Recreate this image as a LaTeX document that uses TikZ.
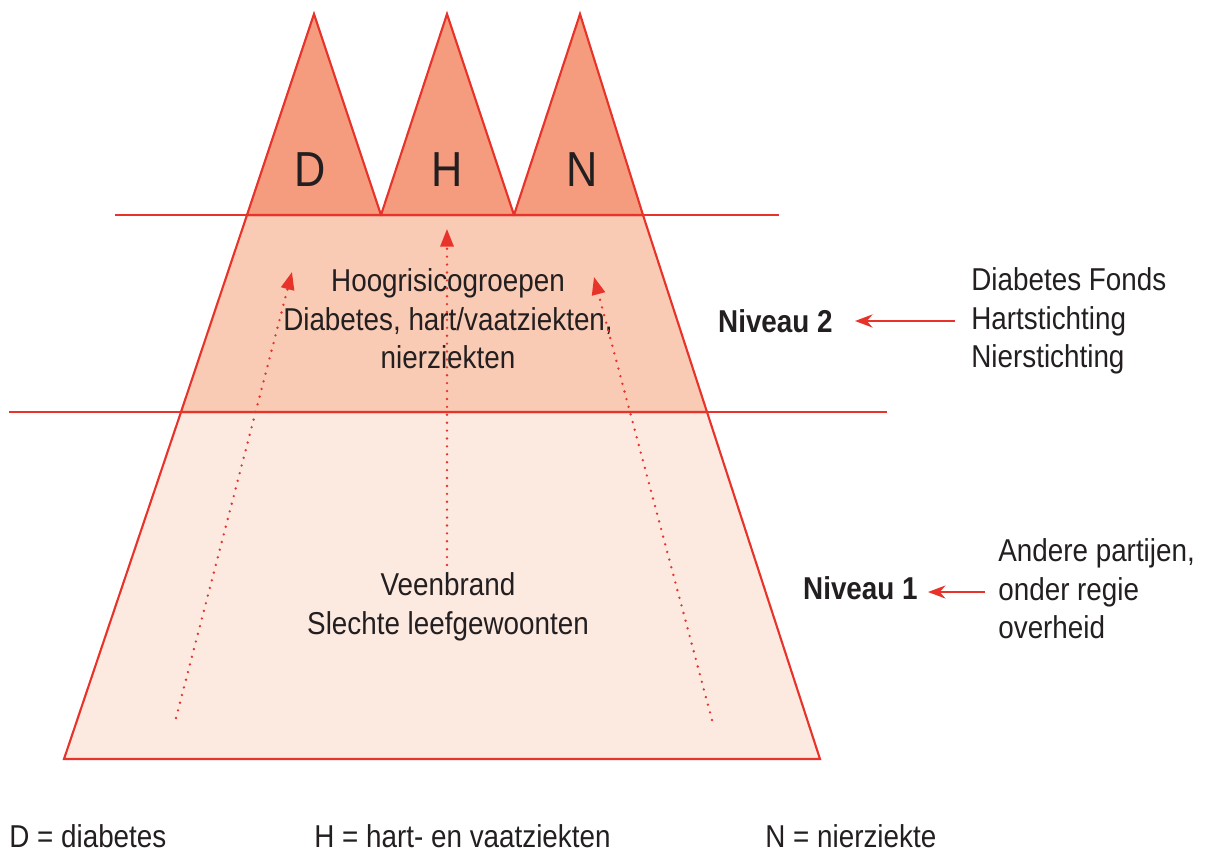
\documentclass[tikz,border=0pt]{standalone}
\usepackage{fontspec}
\setmainfont{Liberation Sans}[FakeStretch=0.88]
\usepackage{tikz}
\usetikzlibrary{arrows.meta,positioning,calc}
\definecolor{peakred}{RGB}{232, 51, 42}
\definecolor{peakfill}{RGB}{245, 156, 126}
\definecolor{midfill}{RGB}{249, 202, 180}
\definecolor{lowfill}{RGB}{252, 233, 224}
\definecolor{inkgray}{RGB}{35, 31, 32}

\begin{document}
\begin{tikzpicture}[
    x=0.02cm, y=-0.02cm,
    band/.style={draw=peakred, line width=1.2pt, line join=miter},
    peak/.style={band, fill=peakfill},
    rule/.style={draw=peakred, line width=0.9pt},
    txt/.style={font=\fontsize{18}{22}\selectfont, text=inkgray, inner sep=0pt, align=center},
    letter/.style={font=\fontsize{28}{30}\selectfont, text=inkgray, inner sep=0pt},
    arrow/.style={-{Stealth[length=10pt, width=7.5pt]}, draw=peakred, line width=1.1pt},
    rise/.style={-{Triangle[length=10pt, width=7.5pt]}, draw=peakred, line width=1.5pt,
        line cap=round, dash pattern=on 0pt off 4.5pt}
]
    \useasboundingbox (0,0) rectangle (1214,852);

    % Bands
    \path[band, fill=lowfill] (64,759) -- (820,759) -- (707,412) -- (181,412) -- cycle;
    \path[band, fill=midfill] (181,412) -- (707,412) -- (643,215) -- (247,215) -- cycle;

    % Peaks
    \path[peak] (247,215) -- (314,14) -- (381,215) -- cycle;
    \path[peak] (381,215) -- (447,14) -- (514,215) -- cycle;
    \path[peak] (514,215) -- (580,14) -- (643,215) -- cycle;

    % Level lines
    \draw[rule] (115,215) -- (779,215);
    \draw[rule] (9,412) -- (887,412);

    % Peak letters
    \node[letter] (d) at (310,170) {D};
    \node[letter] (h) at (447,170) {H};
    \node[letter] (n) at (582,170) {N};

    % Band texts
    \node[txt] (risk) at (448,319) {Hoogrisicogroepen\\Diabetes, hart/vaatziekten,\\nierziekten};
    \node[txt] (peat) at (448,607) {Veenbrand\\Slechte leefgewoonten};

    % Dotted rises
    \coordinate (l0) at (176,718);
    \coordinate (l1) at (292,272);
    \coordinate (c0) at (447,565);
    \coordinate (c1) at (447,229);
    \coordinate (r0) at (712,720);
    \coordinate (r1) at (594,277);
    \draw[rise] (l0) -- (l1);
    \draw[rise] (c0) -- (c1);
    \draw[rise] (r0) -- (r1);

    % Levels
    \node[txt, font=\fontsize{18}{22}\selectfont\bfseries, anchor=east] (niv2) at (833,321) {Niveau 2};
    \node[txt, align=left, anchor=west] (funds) at (971,321) {Diabetes Fonds\\Hartstichting\\Nierstichting};
    \node[txt, font=\fontsize{18}{22}\selectfont\bfseries, anchor=east] (niv1) at (918,588) {Niveau 1};
    \node[txt, align=left, anchor=west] (others) at (998,589) {Andere partijen,\\onder regie\\overheid};

    \draw[arrow] (funds.west |- niv2) ++(-16,0) coordinate (f0) -- ($(niv2.east)+(22,0)$);
    \draw[arrow] (others.west |- niv1) ++(-13,4) coordinate (o0) -- ($(niv1.east)+(10,4)$);

    % Legend
    \node[txt, anchor=west] (ld) at (9,836) {D = diabetes};
    \node[txt, anchor=west] (lh) at (314,836) {H = hart- en vaatziekten};
    \node[txt, anchor=west] (ln) at (765,836) {N = nierziekte};

\end{tikzpicture}
\end{document}
